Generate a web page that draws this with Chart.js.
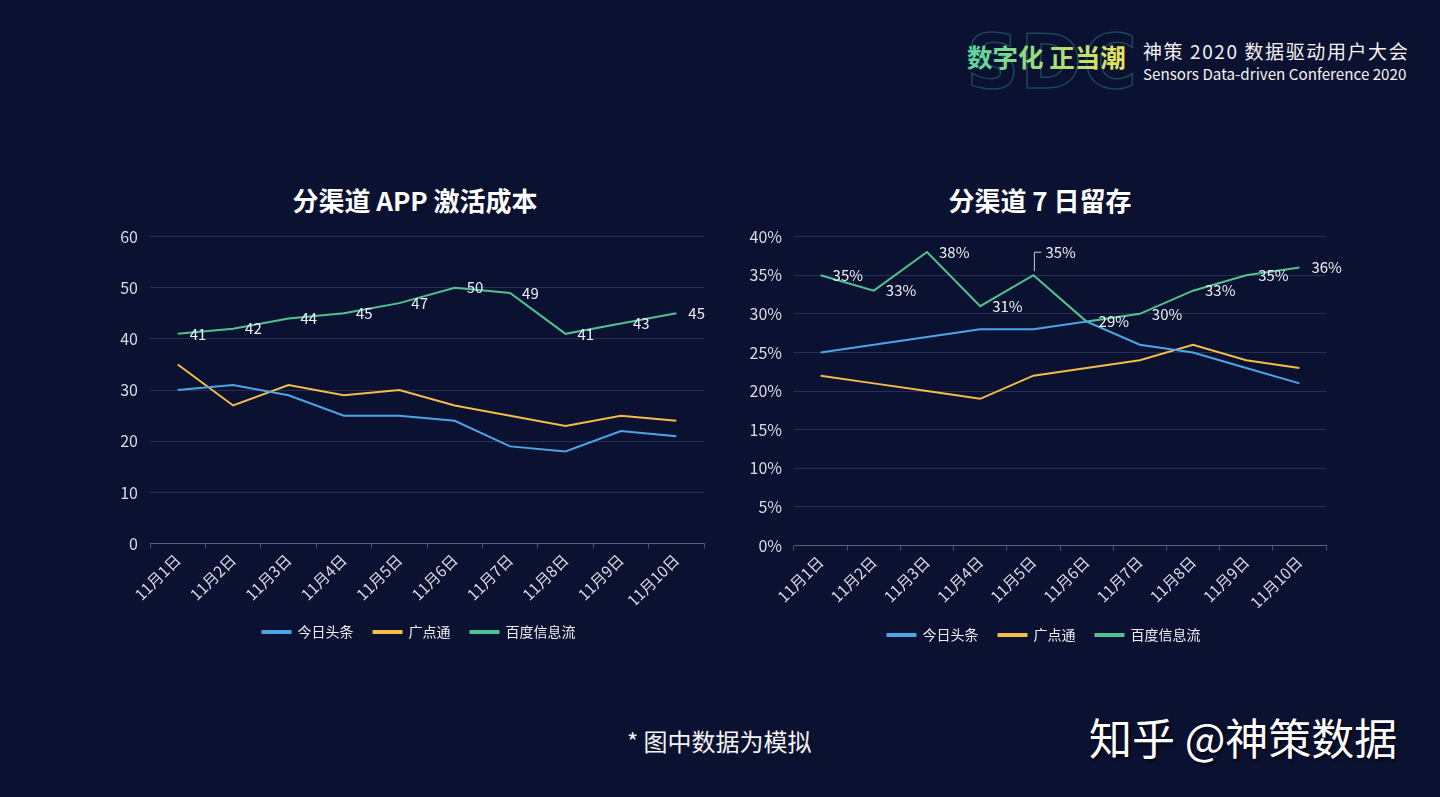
<!DOCTYPE html>
<html>
<head>
<meta charset="utf-8">
<script src="https://cdn.jsdelivr.net/npm/chart.js@4.4.1/dist/chart.umd.min.js"></script>
<style>
  html,body{margin:0;padding:0;}
  body{width:1440px;height:797px;background:#0b1130;position:relative;overflow:hidden;font-family:"Noto Sans CJK SC","Noto Sans",sans-serif;color:#fff;}
  .abs{position:absolute;}
  .title{font-size:26px;font-weight:700;color:#fff;white-space:nowrap;transform:translateX(-50%);}
  .cv{position:absolute;}
</style>
</head>
<body>
<!-- header logo -->
<svg class="abs" style="left:960px;top:18px" width="190" height="76">
  <defs>
    <linearGradient id="g1" x1="0" x2="1" y1="0" y2="0">
      <stop offset="0" stop-color="#57d6a0"/>
      <stop offset="1" stop-color="#e9e35a"/>
    </linearGradient>
  </defs>
  <text x="6" y="70" font-family="DejaVu Sans" font-size="74" font-weight="700" fill="none" stroke="#1e4658" stroke-width="1.5" letter-spacing="1">SDC</text>
  <text x="7" y="49" font-family="Noto Sans CJK SC" font-size="25.5" font-weight="700" fill="url(#g1)">数字化 正当潮</text>
</svg>
<div class="abs" style="left:1143px;top:37px;font-size:19px;letter-spacing:1.6px;white-space:nowrap;color:#f2f2f2">神策 2020 数据驱动用户大会</div>
<div class="abs" style="left:1143px;top:62px;font-size:15.2px;white-space:nowrap;color:#f2f2f2">Sensors Data-driven Conference 2020</div>

<div class="abs title" style="left:415px;top:181px">分渠道 APP 激活成本</div>
<div class="abs title" style="left:1040px;top:181px">分渠道 7 日留存</div>

<canvas id="c1" class="cv" style="left:95px;top:215px" width="650" height="434"></canvas>
<canvas id="c2" class="cv" style="left:740px;top:215px" width="640" height="437"></canvas>

<div class="abs" style="left:627px;top:723px;font-size:24px;white-space:nowrap;color:#f4f4f4">* 图中数据为模拟</div>
<div class="abs" style="left:1089px;top:705px;font-size:43px;white-space:nowrap;color:#ffffff;text-shadow:2px 2px 3px rgba(0,0,0,0.6)">知乎 @神策数据</div>

<script>
// ---- data ----
const categories = ["11月1日","11月2日","11月3日","11月4日","11月5日","11月6日","11月7日","11月8日","11月9日","11月10日"];
const seriesNames = ["今日头条","广点通","百度信息流"];
// 分渠道 APP 激活成本
const costToutiao = [30,31,29,25,25,24,19,18,22,21];
const costGdt     = [35,27,31,29,30,27,25,23,25,24];
const costBaidu   = [41,42,44,45,47,50,49,41,43,45];
// 分渠道 7 日留存 (%)
const retToutiao = [25,26,27,28,28,29,26,25,23,21];
const retGdt     = [22,21,20,19,22,23,24,26,24,23];
const retBaidu   = [35,33,38,31,35,29,30,33,35,36];
const costTicks = [0,10,20,30,40,50,60];
const retTicks  = [0,5,10,15,20,25,30,35,40];

const colors = ["#4ea5e6","#f3bd48","#52c291"];
const tickColor = "#d9dce4";
const gridColor = "rgba(120,130,170,0.28)";
const FONT = "'Noto Sans CJK SC','Noto Sans',sans-serif";

// plugin: draw value labels for the 百度信息流 series
const valueLabels = {
  id: 'valueLabels',
  afterDatasetsDraw(chart, args, opts) {
    const ctx = chart.ctx;
    const meta = chart.getDatasetMeta(opts.datasetIndex);
    const ds = chart.data.datasets[opts.datasetIndex];
    ctx.save();
    ctx.font = "15px " + FONT;
    ctx.fillStyle = "#eef0f4";
    ctx.textBaseline = "middle";
    ctx.textAlign = "left";
    meta.data.forEach((pt, i) => {
      let x = pt.x + 12, y = pt.y;
      const lift = opts.lifts && opts.lifts[i];
      if (lift) {
        y = pt.y + lift;
        ctx.strokeStyle = "#c8ccd6";
        ctx.lineWidth = 1;
        ctx.beginPath();
        ctx.moveTo(pt.x + 1, pt.y - 4);
        ctx.lineTo(pt.x + 1, y);
        ctx.lineTo(pt.x + 8, y);
        ctx.stroke();
      }
      ctx.fillText(opts.format(ds.data[i]), x, y);
    });
    ctx.restore();
  }
};

function makeChart(id, series, ticks, fmt, yWidth, rightSpace, padRight, xShrink, lifts) {
  return new Chart(document.getElementById(id), {
    type: 'line',
    data: {
      labels: categories,
      datasets: series.map((d, i) => ({
        label: seriesNames[i],
        data: d,
        borderColor: colors[i],
        backgroundColor: colors[i],
        borderWidth: 2,
        pointRadius: 0,
        tension: 0,
        fill: false
      }))
    },
    options: {
      responsive: false,
      animation: false,
      layout: { padding: { top: 4, right: padRight, left: 0, bottom: 0 } },
      plugins: {
        title: { display: false },
        tooltip: { enabled: false },
        legend: {
          position: 'bottom',
          labels: {
            color: "#eef0f4",
            font: { family: FONT, size: 14 },
            boxWidth: 28,
            boxHeight: 2,
            padding: 20
          }
        },
        valueLabels: { datasetIndex: 2, format: fmt, lifts: lifts }
      },
      scales: {
        x: {
          offset: true,
          afterFit(scale) { scale.height = scale.height - xShrink; },
          grid: { display: true, drawOnChartArea: false, drawTicks: true, tickLength: 5, offset: true, color: "rgba(150,160,190,0.45)" },
          border: { display: true, color: "rgba(150,160,190,0.45)" },
          ticks: { color: tickColor, font: { family: FONT, size: 15.5 }, minRotation: 45, maxRotation: 45, padding: 2 }
        },
        y: {
          min: ticks[0],
          max: ticks[ticks.length - 1],
          afterBuildTicks(scale) { scale.ticks = ticks.map(v => ({ value: v })); },
          afterFit(scale) { scale.width = yWidth; },
          grid: { color: gridColor, drawTicks: false },
          border: { display: false },
          ticks: { color: tickColor, font: { family: FONT, size: 16 }, padding: 12, callback: v => fmt(v) }
        },
        ySpace: {
          position: 'right',
          display: true,
          min: 0, max: 1,
          afterFit(scale) { scale.width = rightSpace; },
          grid: { display: false, drawTicks: false },
          border: { display: false },
          ticks: { display: false }
        }
      }
    },
    plugins: [valueLabels]
  });
}

makeChart('c1', [costToutiao, costGdt, costBaidu], costTicks, v => String(v), 55, 39, 2, 7, null);
makeChart('c2', [retToutiao, retGdt, retBaidu], retTicks, v => v + '%', 54, 22, 32, 6, [0,0,0,0,-23,0,0,0,0,0]);
</script>
</body>
</html>
